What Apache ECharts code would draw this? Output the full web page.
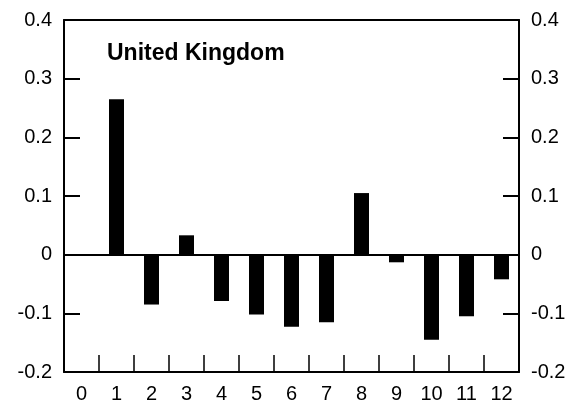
<!DOCTYPE html>
<html>
<head>
<meta charset="utf-8">
<script src="https://cdn.jsdelivr.net/npm/echarts@6/dist/echarts.min.js"></script>
<style>
  html, body { margin: 0; padding: 0; background: #fff; }
  #chart { width: 583px; height: 411px; }
</style>
</head>
<body>
<div id="chart"></div>
<script>
// Lag index along the x axis, one value per lag (lag 0 has no bar)
const lags = ['0', '1', '2', '3', '4', '5', '6', '7', '8', '9', '10', '11', '12'];
const coefficients = [null, 0.265, -0.085, 0.033, -0.079, -0.102, -0.123, -0.115, 0.105, -0.013, -0.145, -0.105, -0.042];
// Vertical scale
const yMin = -0.2;
const yMax = 0.4;
const yStep = 0.1;
const panelTitle = 'United Kingdom';

const font = 'Liberation Sans, Arial, sans-serif';
const ink = '#000';

function yLabel(v) {
  const r = Math.round(v * 10) / 10;
  return r === 0 ? '0' : r.toFixed(1);
}

function valueAxis(position) {
  return {
    type: 'value',
    position: position,
    min: yMin,
    max: yMax,
    interval: yStep,
    axisLine: { show: true, lineStyle: { color: ink, width: 2 } },
    axisTick: { show: true, inside: true, length: 16, lineStyle: { color: ink, width: 2 } },
    axisLabel: {
      show: true,
      color: ink,
      fontFamily: font,
      fontSize: 20,
      margin: 12,
      formatter: yLabel
    },
    splitLine: { show: false }
  };
}

const chart = echarts.init(document.getElementById('chart'), null, { renderer: 'canvas' });

chart.setOption({
  animation: false,
  backgroundColor: '#fff',
  title: {
    text: panelTitle,
    left: 102,
    top: 37,
    textStyle: { fontFamily: font, fontSize: 23, fontWeight: 'bold', color: ink }
  },
  grid: { left: 64, right: 64, top: 20, bottom: 39, containLabel: false },
  xAxis: [
    {
      type: 'category',
      data: lags,
      position: 'bottom',
      boundaryGap: true,
      axisLine: { show: true, onZero: false, lineStyle: { color: ink, width: 2 } },
      axisTick: { show: true, inside: true, length: 17, lineStyle: { color: ink, width: 1.5 } },
      axisLabel: { color: ink, fontFamily: font, fontSize: 20, margin: 12 },
      splitLine: { show: false }
    },
    {
      type: 'category',
      data: lags,
      position: 'top',
      axisLine: { show: true, onZero: false, lineStyle: { color: ink, width: 2 } },
      axisTick: { show: false },
      axisLabel: { show: false },
      splitLine: { show: false }
    }
  ],
  yAxis: [valueAxis('left'), valueAxis('right')],
  series: [
    {
      type: 'bar',
      xAxisIndex: 0,
      yAxisIndex: 0,
      data: coefficients,
      barWidth: 15,
      itemStyle: { color: ink },
      markLine: {
        silent: true,
        symbol: ['none', 'none'],
        label: { show: false },
        lineStyle: { color: ink, width: 2, type: 'solid' },
        data: [{ yAxis: 0 }]
      }
    }
  ]
});
</script>
</body>
</html>
